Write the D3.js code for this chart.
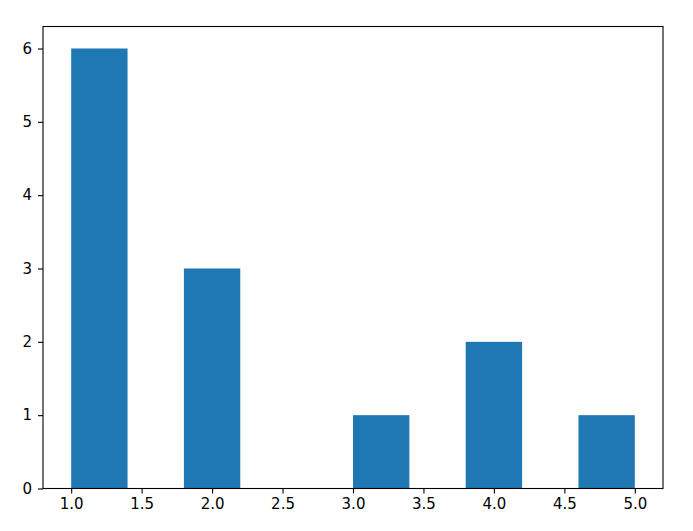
<!DOCTYPE html>
<html><head><meta charset="utf-8">
<script src="https://cdn.jsdelivr.net/npm/d3@7"></script>
<style>body{margin:0;background:#fff}svg{display:block}</style>
</head><body>
<script>
const binEdges = [1.0,1.4,1.8,2.2,2.6,3.0,3.4,3.8,4.2,4.6,5.0];
const counts = [6,0,3,0,0,1,0,2,0,1];
const xTicks = [1.0,1.5,2.0,2.5,3.0,3.5,4.0,4.5,5.0];
const yTicks = [0,1,2,3,4,5,6];

const W = 693, H = 531;
const m = {left:43, right:663, top:26.5, bottom:488.5};
const svg = d3.select("body").append("svg").attr("width",W).attr("height",H);
const x = d3.scaleLinear().domain([0.8,5.2]).range([m.left,m.right]);
const y = d3.scaleLinear().domain([0,6.3]).range([m.bottom,m.top]);

const bins = counts.map((c,i)=>({x0:binEdges[i],x1:binEdges[i+1],c}));
svg.append("g").selectAll("rect").data(bins.filter(d=>d.c>0)).join("rect")
  .attr("x",d=>x(d.x0)).attr("width",d=>x(d.x1)-x(d.x0))
  .attr("y",d=>y(d.c)).attr("height",d=>y(0)-y(d.c))
  .attr("fill","#1f77b4");

const fmt = d3.format(".1f");
const xa = svg.append("g").attr("transform",`translate(0,${m.bottom})`)
  .call(d3.axisBottom(x).tickValues(xTicks).tickFormat(fmt).tickSize(5).tickPadding(5));
const ya = svg.append("g").attr("transform",`translate(${m.left},0)`)
  .call(d3.axisLeft(y).tickValues(yTicks).tickFormat(d3.format("d")).tickSize(5).tickPadding(6));
[xa,ya].forEach(a=>{
  a.attr("font-family","'DejaVu Sans', sans-serif").attr("font-size",15);
  a.select(".domain").remove();
  a.selectAll("line").attr("stroke","#000").attr("stroke-width",1.1);
  a.selectAll("text").attr("fill","#000");
});
svg.append("rect").attr("x",m.left).attr("y",m.top).attr("width",m.right-m.left).attr("height",m.bottom-m.top)
  .attr("fill","none").attr("stroke","#000").attr("stroke-width",1.1);
</script>
</body></html>
